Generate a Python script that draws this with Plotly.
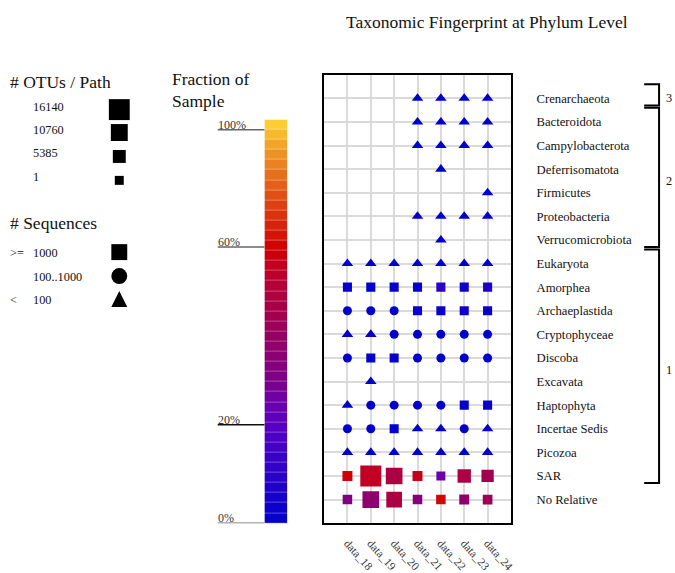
import numpy as np
import plotly.graph_objects as go

# ---------------- data ----------------
phyla = ["Crenarchaeota", "Bacteroidota", "Campylobacterota", "Deferrisomatota",
         "Firmicutes", "Proteobacteria", "Verrucomicrobiota", "Eukaryota",
         "Amorphea", "Archaeplastida", "Cryptophyceae", "Discoba", "Excavata",
         "Haptophyta", "Incertae Sedis", "Picozoa", "SAR", "No Relative"]
samples = ["data_18", "data_19", "data_20", "data_21", "data_22", "data_23", "data_24"]

# group number and (first, last) phylum index of each bracket
group_names = ["3", "2", "1"]
group_first = [0, 1, 7]
group_last = [0, 6, 16]

N = None
# number of sequences per phylum / sample (estimated from the symbols)
sequences = [
    [N, N, N, 40, 35, 30, 45],
    [N, N, N, 30, 40, 35, 50],
    [N, N, N, 25, 30, 20, 35],
    [N, N, N, N, 15, N, N],
    [N, N, N, N, N, N, 12],
    [N, N, N, 45, 50, 40, 60],
    [N, N, N, N, 10, N, N],
    [60, 70, 80, 50, 40, 55, 65],
    [2500, 3200, 2800, 2100, 3500, 2600, 3000],
    [600, 700, 800, 1500, 1800, 1400, 1600],
    [70, 80, 300, 250, 200, 220, 260],
    [400, 1200, 1100, 500, 450, 420, 480],
    [N, 20, N, N, N, N, N],
    [50, 300, 350, 400, 380, 1300, 1200],
    [200, 250, 1100, 60, 50, 300, 40],
    [30, 35, 40, 25, 30, 35, 28],
    [40000, 60000, 52000, 45000, 20000, 48000, 41000],
    [22000, 38000, 50000, 26000, 52000, 30000, 36000],
]
# fraction of sample per phylum / sample
fraction = [
    [N, N, N, 0.004, 0.003, 0.003, 0.004],
    [N, N, N, 0.003, 0.004, 0.003, 0.005],
    [N, N, N, 0.002, 0.003, 0.002, 0.003],
    [N, N, N, N, 0.001, N, N],
    [N, N, N, N, N, N, 0.001],
    [N, N, N, 0.004, 0.005, 0.004, 0.006],
    [N, N, N, N, 0.001, N, N],
    [0.005, 0.004, 0.005, 0.004, 0.003, 0.004, 0.005],
    [0.012, 0.010, 0.012, 0.015, 0.10, 0.04, 0.07],
    [0.008, 0.007, 0.009, 0.020, 0.020, 0.030, 0.020],
    [0.004, 0.004, 0.006, 0.006, 0.005, 0.006, 0.006],
    [0.006, 0.012, 0.012, 0.008, 0.007, 0.007, 0.008],
    [N, 0.002, N, N, N, N, N],
    [0.004, 0.006, 0.007, 0.008, 0.008, 0.015, 0.015],
    [0.006, 0.006, 0.012, 0.004, 0.003, 0.006, 0.003],
    [0.003, 0.003, 0.004, 0.003, 0.003, 0.003, 0.003],
    [0.59, 0.55, 0.48, 0.56, 0.25, 0.48, 0.44],
    [0.32, 0.37, 0.48, 0.34, 0.61, 0.38, 0.43],
]
# number of OTUs per path
otus = [
    [N, N, N, 3, 4, 3, 5],
    [N, N, N, 5, 6, 4, 8],
    [N, N, N, 2, 3, 2, 3],
    [N, N, N, N, 1, N, N],
    [N, N, N, N, N, N, 1],
    [N, N, N, 6, 8, 5, 9],
    [N, N, N, N, 1, N, N],
    [10, 12, 14, 9, 8, 10, 11],
    [120, 150, 140, 110, 160, 130, 150],
    [60, 70, 80, 120, 140, 110, 130],
    [8, 9, 30, 25, 20, 22, 26],
    [40, 90, 85, 45, 42, 40, 44],
    [N, 2, N, N, N, N, N],
    [6, 30, 35, 40, 38, 100, 95],
    [20, 25, 90, 7, 6, 30, 5],
    [3, 4, 5, 3, 3, 4, 3],
    [1300, 16140, 10300, 1300, 1, 5800, 4400],
    [700, 10300, 9000, 700, 700, 1300, 900],
]

otu_legend = [16140, 10760, 5385, 1]
seq_legend_text = [">=", "", "<"]
seq_legend_vals = ["1000", "100..1000", "100"]
frac_ticks = [0.0, 0.2, 0.6, 1.0]
frac_tick_text = ["0%", "20%", "60%", "100%"]

# ---------------- scales / styles ----------------
W, H = 675, 573
FONT = "Liberation Serif, Times New Roman, serif"
OTU_MAX = 16140


def otu_size(v):
    return 9 + 12 * v / OTU_MAX


def seq_symbol(s):
    if s >= 1000:
        return "square"
    if s >= 100:
        return "circle"
    return "triangle-up"


# fraction -> position along the colour bar (non-linear scale)
P_TICKS = [0.0, 0.244, 0.684, 0.975]


def frac_pos(f):
    return float(np.interp(f, frac_ticks, P_TICKS))


colorscale = [[0.0, "#0000CC"], [0.12, "#2C00C8"], [0.245, "#5800C2"],
              [0.30, "#6C00AC"], [0.35, "#7C0088"], [0.45, "#920068"],
              [0.52, "#A4004C"], [0.60, "#B80034"], [0.68, "#D00004"],
              [0.75, "#D82A0C"], [0.85, "#E4661C"], [0.93, "#F0A028"],
              [1.0, "#FFD835"]]


def px(x):
    return x / W


def py(y):
    return 1 - y / H


fig = go.Figure()

# ---------------- main fingerprint ----------------
xs, ys, sz, col, sym = [], [], [], [], []
for r in range(len(phyla)):
    for c in range(len(samples)):
        s = sequences[r][c]
        if s is None:
            continue
        xs.append(c)
        ys.append(r)
        base = otu_size(otus[r][c])
        sy = seq_symbol(s)
        sz.append(base * 1.12 if sy == "triangle-up" else base)
        col.append(frac_pos(fraction[r][c]))
        sym.append(sy)

fig.add_trace(go.Scatter(
    x=xs, y=ys, mode="markers", xaxis="x", yaxis="y",
    marker=dict(size=sz, color=col, symbol=sym, colorscale=colorscale,
                cmin=0, cmax=1, opacity=1, line=dict(width=0)),
    hoverinfo="skip", showlegend=False))

# ---------------- colour bar ----------------
nb = 40
centers = [(i + 0.5) / nb for i in range(nb)]
fig.add_trace(go.Heatmap(
    x=[0], y=centers, z=[[c] for c in centers], colorscale=colorscale,
    zmin=0, zmax=1, showscale=False, xaxis="x2", yaxis="y2", ygap=0.3,
    hoverinfo="skip"))

annotations = []
shapes = []


def txt(x, y, t, size=12, xanchor="left", yanchor="middle", color="#111"):
    annotations.append(dict(x=px(x - (2 if xanchor == "left" else 0)), y=py(y),
                            xref="paper", yref="paper",
                            text=t, showarrow=False, xanchor=xanchor,
                            yanchor=yanchor,
                            font=dict(family=FONT, size=size, color=color)))


def glyph(kind, cx, cy, s):
    h = s / 2
    if kind == "square":
        shapes.append(dict(type="rect", xref="paper", yref="paper",
                           x0=px(cx - h), x1=px(cx + h), y0=py(cy + h), y1=py(cy - h),
                           fillcolor="black", line=dict(width=0)))
    elif kind == "circle":
        shapes.append(dict(type="circle", xref="paper", yref="paper",
                           x0=px(cx - h), x1=px(cx + h), y0=py(cy + h), y1=py(cy - h),
                           fillcolor="black", line=dict(width=0)))
    else:
        shapes.append(dict(type="path", xref="paper", yref="paper",
                           path=f"M {px(cx - h)},{py(cy + h)} L {px(cx + h)},{py(cy + h)} "
                                f"L {px(cx)},{py(cy - h)} Z",
                           fillcolor="black", line=dict(width=0)))


HEAD = 17.5
txt(490, 22, "Taxonomic Fingerprint at Phylum Level", HEAD, xanchor="center")
txt(10, 82, "# OTUs / Path", HEAD)
for v, y in zip(otu_legend, [110, 133, 157, 181]):
    txt(33, y - 3, str(v), 12.3)
    glyph("square", 120, y, otu_size(v))
txt(10, 224, "# Sequences", HEAD)
for a, b, y, k in zip(seq_legend_text, seq_legend_vals, [254, 278, 301],
                      ["square", "circle", "triangle"]):
    if a:
        txt(10, y, a, 12.3)
    txt(33, y, b, 12.3)
    glyph(k, 120, y - 1, 16)
txt(173, 79, "Fraction of", HEAD)
txt(173, 101, "Sample", HEAD)

# colour bar ticks
for f, t in zip(frac_ticks, frac_tick_text):
    p = frac_pos(f)
    shapes.append(dict(type="line", xref="paper", yref="y2",
                       x0=px(219), x1=px(266), y0=p, y1=p,
                       line=dict(color="#666" if t != "20%" else "#111", width=1.5)))
    annotations.append(dict(x=px(217), y=p, xref="paper", yref="y2", text=t,
                            showarrow=False, xanchor="left", yanchor="bottom",
                            yshift=-4,
                            font=dict(family=FONT, size=12, color="#333")))

# group brackets
for g, a, b in zip(group_names, group_first, group_last):
    y0, y1 = a - 0.6, b + 0.3
    shapes.append(dict(type="path", xref="paper", yref="y",
                       path=f"M {px(648)},{y0} L {px(663)},{y0} L {px(663)},{y1} L {px(648)},{y1}",
                       line=dict(color="black", width=2)))
    annotations.append(dict(x=px(668), y=(a + b) / 2, xref="paper", yref="y",
                            text=g, showarrow=False, xanchor="left",
                            font=dict(family=FONT, size=12.3, color="#111")))

fig.update_layout(
    width=W, height=H, margin=dict(l=0, r=0, t=0, b=0),
    paper_bgcolor="white", plot_bgcolor="white",
    font=dict(family=FONT, color="#111"),
    showlegend=False,
    xaxis=dict(domain=[px(326), px(514)], range=[-1, 7],
               tickvals=list(range(len(samples))), ticktext=samples,
               tickangle=48, ticklabelstandoff=7, ticks="",
               tickfont=dict(family=FONT, size=11.5, color="#333"),
               showgrid=True, gridcolor="#DADADA", gridwidth=2,
               zeroline=False, showline=True, mirror=True,
               linecolor="black", linewidth=2, anchor="y", fixedrange=True),
    yaxis=dict(domain=[py(525), py(75)], range=[18, -1],
               tickvals=list(range(len(phyla))), ticktext=phyla,
               side="right", ticks="", ticklabelstandoff=21,
               tickfont=dict(family=FONT, size=12.7, color="#111"),
               showgrid=True, gridcolor="#DADADA", gridwidth=2,
               zeroline=False, showline=True, mirror=True,
               linecolor="black", linewidth=2, anchor="x", fixedrange=True),
    xaxis2=dict(domain=[px(266), px(289)], range=[-0.5, 0.5], visible=False,
                anchor="y2", fixedrange=True),
    yaxis2=dict(domain=[py(525), py(120)], range=[0, 1], visible=False,
                anchor="x2", fixedrange=True),
    annotations=annotations, shapes=shapes,
)

fig.write_html("out.html", config={"displayModeBar": False},
               post_script="document.body.style.margin='0';"
                           "document.documentElement.style.overflow='hidden';")
